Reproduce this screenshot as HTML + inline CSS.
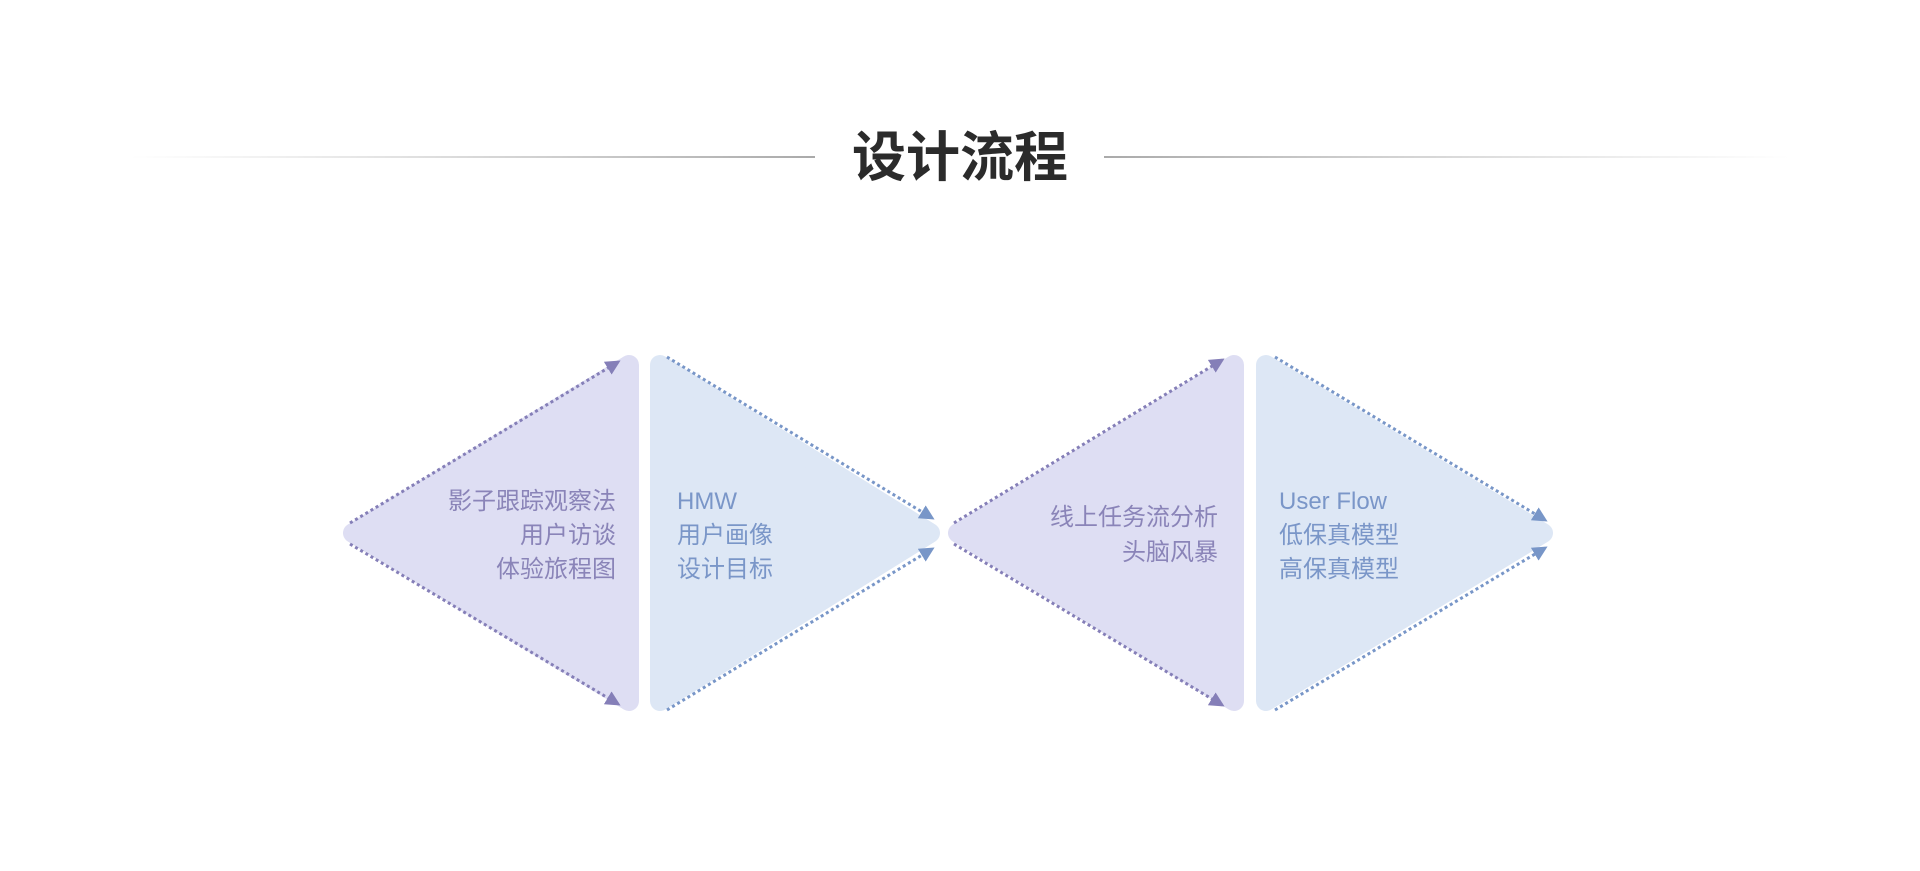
<!DOCTYPE html>
<html><head><meta charset="utf-8"><style>
html,body{margin:0;padding:0;background:#fff;width:1920px;height:871px;overflow:hidden}
svg{display:block}
</style></head><body>
<svg width="1920" height="871" viewBox="0 0 1920 871" xmlns="http://www.w3.org/2000/svg" font-family="'Liberation Sans','Noto Sans CJK SC',sans-serif">
<defs>
<linearGradient id="gl" x1="0" x2="1"><stop offset="0" stop-color="#bbb" stop-opacity="0"/><stop offset="1" stop-color="#aaa"/></linearGradient>
<linearGradient id="gr" x1="0" x2="1"><stop offset="0" stop-color="#aaa"/><stop offset="1" stop-color="#bbb" stop-opacity="0"/></linearGradient>
<marker id="ap" viewBox="0 0 10 10" refX="8" refY="5" markerWidth="5" markerHeight="5" orient="auto"><path d="M0,0 L10,5 L0,10 z" fill="#857fb8"/></marker>
<marker id="ab" viewBox="0 0 10 10" refX="8" refY="5" markerWidth="5" markerHeight="5" orient="auto"><path d="M0,0 L10,5 L0,10 z" fill="#7896c8"/></marker>
</defs>
<rect x="130" y="156" width="685" height="2" fill="url(#gl)"/>
<rect x="1104" y="156" width="686" height="2" fill="url(#gr)"/>
<text x="960" y="176" text-anchor="middle" font-size="54" font-weight="bold" fill="#2b2b2b">设计流程</text>

<g stroke-linejoin="round" stroke-width="20">
<polygon points="353,533 629,365 629,701" fill="#dedef3" stroke="#dedef3"/>
<polygon points="660,365 930,533 660,701" fill="#dde7f5" stroke="#dde7f5"/>
<polygon points="958,533 1234,365 1234,701" fill="#dedef3" stroke="#dedef3"/>
<polygon points="1266,365 1543,533 1266,701" fill="#dde7f5" stroke="#dde7f5"/>
</g>
<g fill="none" stroke-width="3" stroke-dasharray="3,3">
<line x1="350" y1="523" x2="618" y2="362" stroke="#857fb8" marker-end="url(#ap)"/>
<line x1="350" y1="544" x2="618" y2="704" stroke="#857fb8" marker-end="url(#ap)"/>
<line x1="667" y1="357" x2="932" y2="518" stroke="#7896c8" marker-end="url(#ab)"/>
<line x1="667" y1="710" x2="932" y2="549" stroke="#7896c8" marker-end="url(#ab)"/>
<line x1="954" y1="523" x2="1222" y2="360" stroke="#857fb8" marker-end="url(#ap)"/>
<line x1="954" y1="544" x2="1222" y2="705" stroke="#857fb8" marker-end="url(#ap)"/>
<line x1="1275" y1="357" x2="1545" y2="520" stroke="#7896c8" marker-end="url(#ab)"/>
<line x1="1275" y1="710" x2="1545" y2="548" stroke="#7896c8" marker-end="url(#ab)"/>
</g>
<g font-size="24" fill="#8a84b8" text-anchor="end">
<text x="616" y="509">影子跟踪观察法</text>
<text x="616" y="543">用户访谈</text>
<text x="616" y="577">体验旅程图</text>
<text x="1218" y="525">线上任务流分析</text>
<text x="1218" y="560">头脑风暴</text>
</g>
<g font-size="24" fill="#7a96c8">
<text x="677" y="509">HMW</text>
<text x="677" y="543">用户画像</text>
<text x="677" y="577">设计目标</text>
<text x="1279" y="509">User Flow</text>
<text x="1279" y="543">低保真模型</text>
<text x="1279" y="577">高保真模型</text>
</g>
</svg>
</body></html>
